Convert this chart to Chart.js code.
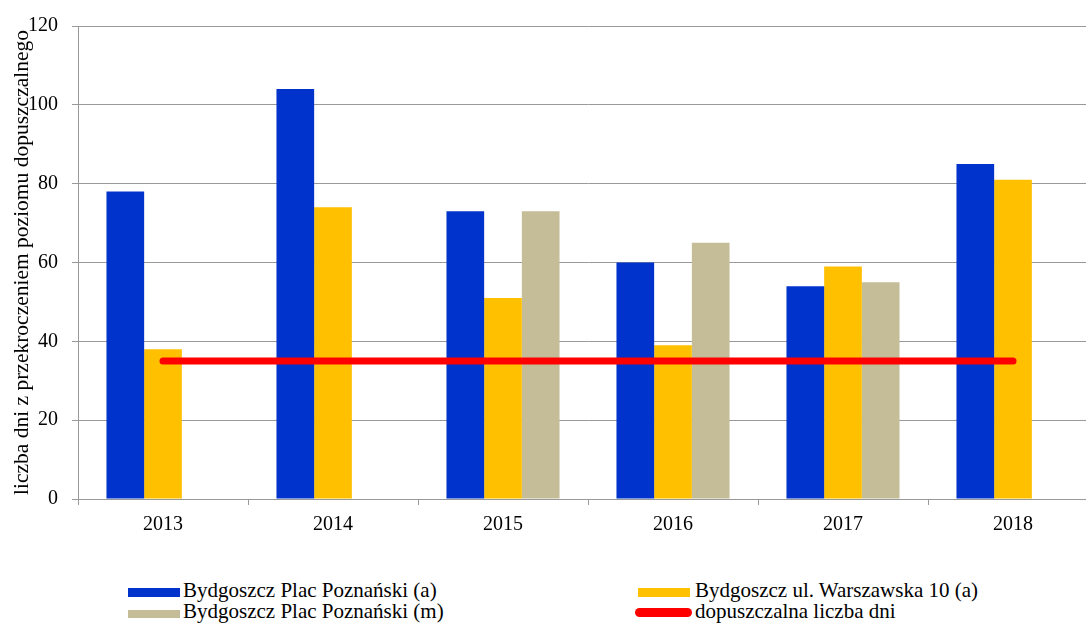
<!DOCTYPE html>
<html>
<head>
<meta charset="utf-8">
<script src="https://cdn.jsdelivr.net/npm/chart.js@4/dist/chart.umd.min.js"></script>
<style>
  html, body { margin: 0; padding: 0; background: #fff; overflow: hidden; }
  #wrap { position: relative; width: 1098px; height: 623px; }
  #box { position: absolute; left: 0; top: 0; width: 1098px; height: 560px; }
  .lg { position: absolute; font-family: "Liberation Serif", "Times New Roman", serif; font-size: 21px; color: #000; white-space: nowrap; line-height: 21px; }
  .sw { position: absolute; }
</style>
</head>
<body>
<div id="wrap">
  <div id="box"><canvas id="barChart"></canvas></div>
  <div id="legend"></div>
</div>
<script>
const years = ['2013', '2014', '2015', '2016', '2017', '2018'];
const placA = [78, 104, 73, 60, 54, 85];          // Bydgoszcz Plac Poznański (a)
const warszawska = [38, 74, 51, 39, 59, 81];       // Bydgoszcz ul. Warszawska 10 (a)
const placM = [null, null, 73, 65, 55, null];      // Bydgoszcz Plac Poznański (m)
const limitDays = [35, 35, 35, 35, 35, 35];        // dopuszczalna liczba dni
const yTicks = [0, 20, 40, 60, 80, 100, 120];

const serif = '"Liberation Serif", "Times New Roman", serif';

const ctx = document.getElementById('barChart').getContext('2d');
const barChart = new Chart(ctx, {
    type: 'bar',
    data: {
        labels: years,
        datasets: [
            { label: 'Bydgoszcz Plac Poznański (a)', data: placA, backgroundColor: '#0033CC', order: 1 },
            { label: 'Bydgoszcz ul. Warszawska 10 (a)', data: warszawska, backgroundColor: '#FFC000', order: 1 },
            { label: 'Bydgoszcz Plac Poznański (m)', data: placM, backgroundColor: '#C4BD97', order: 1 },
            {
                type: 'line', label: 'dopuszczalna liczba dni', data: limitDays,
                borderColor: '#FF0000', borderWidth: 7, borderCapStyle: 'round',
                pointRadius: 0, fill: false, order: 0
            }
        ]
    },
    options: {
        responsive: true,
        maintainAspectRatio: false,
        animation: false,
        layout: { padding: { top: 24, left: 0, right: 0, bottom: 0 } },
        datasets: { bar: { barPercentage: 1, categoryPercentage: 0.665 } },
        plugins: { legend: { display: false }, tooltip: { enabled: false } },
        scales: {
            x: {
                grid: { display: true, drawOnChartArea: false, drawTicks: true, tickLength: 6, color: '#999', offset: true },
                border: { color: '#999' },
                ticks: { color: '#000', font: { family: serif, size: 20 }, padding: 8 },
                afterFit: function(scale) { scale.height = 61; }
            },
            y: {
                min: 0, max: 120,
                afterBuildTicks: function(scale) { scale.ticks = yTicks.map(v => ({ value: v })); },
                grid: { color: '#999', tickLength: 6 },
                border: { color: '#999' },
                ticks: { color: '#000', font: { family: serif, size: 20 }, padding: 14 },
                title: {
                    display: true,
                    text: 'liczba dni z przekroczeniem poziomu dopuszczalnego',
                    color: '#000',
                    font: { family: serif, size: 21.5 },
                    padding: { top: 9, bottom: 0 }
                },
                afterFit: function(scale) { scale.width = 78; }
            }
        }
    }
});

// legenda w dwóch kolumnach
const legendItems = [
    { text: 'Bydgoszcz Plac Poznański (a)', color: '#0033CC', sx: 128, sy: 588, sw: 52, sh: 9, tx: 183, base: 598 },
    { text: 'Bydgoszcz ul. Warszawska 10 (a)', color: '#FFC000', sx: 638, sy: 588, sw: 52, sh: 9, tx: 695, base: 598 },
    { text: 'Bydgoszcz Plac Poznański (m)', color: '#C4BD97', sx: 128, sy: 610, sw: 52, sh: 8, tx: 183, base: 619 },
    { text: 'dopuszczalna liczba dni', color: '#FF0000', sx: 635, sy: 608, sw: 57, sh: 9, tx: 695, base: 619, line: true }
];
const lg = document.getElementById('legend');
legendItems.forEach(function(it) {
    const s = document.createElement('div');
    s.className = 'sw';
    s.style.left = it.sx + 'px';
    s.style.top = it.sy + 'px';
    s.style.width = it.sw + 'px';
    s.style.height = it.sh + 'px';
    s.style.background = it.color;
    if (it.line) s.style.borderRadius = '5px';
    lg.appendChild(s);
    const t = document.createElement('div');
    t.className = 'lg';
    t.textContent = it.text;
    t.style.left = it.tx + 'px';
    t.style.top = (it.base - 17.6) + 'px';
    lg.appendChild(t);
});
</script>
</body>
</html>
